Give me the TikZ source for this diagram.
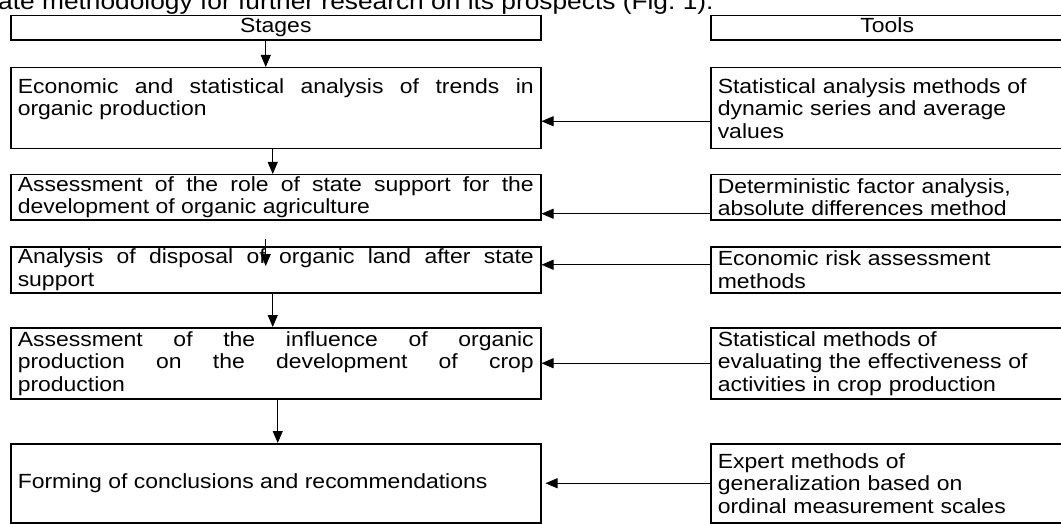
\documentclass[tikz,border=0pt]{standalone}
\usepackage{fontspec}
\setmainfont[FakeStretch=1.12]{Liberation Sans}
\usetikzlibrary{arrows.meta}
\begin{document}
\begin{tikzpicture}[x=1pt,y=-1pt,
 box/.style={draw,line width=1.5pt,anchor=north west,inner xsep=7pt,inner ysep=1pt,font=\fontsize{20.5}{22.5}\selectfont},
 stage/.style={box,text width=516pt,align=justify},
 tool/.style={box,text width=339pt,align=left},
 arr/.style={-{Triangle[length=12pt,width=10pt]},line width=0.8pt}]
 \clip (0,0) rectangle (1061,524);
 \node[anchor=base west,inner sep=0pt,font=\fontsize{23.5}{27}\selectfont] (lead) at (-2,10) {ate methodology for further research on its prospects (Fig.~1).};
 \node[box,minimum width=530pt,minimum height=24pt] (stages) at (10,15) {\strut Stages};
 \node[box,minimum width=353pt,minimum height=24pt] (tools) at (710,15) {\strut Tools};
 \node[stage,minimum height=81pt] (s1) at (10,67) {Economic and statistical analysis of trends in\linebreak organic production\par\mbox{}};
 \node[stage,minimum height=45pt] (s2) at (10,174) {Assessment of the role of state support for the\linebreak development of organic agriculture};
 \node[stage,minimum height=46pt] (s3) at (10,246) {Analysis of disposal of organic land after state\linebreak support};
 \node[stage,minimum height=71pt] (s4) at (10,327) {Assessment of the influence of organic\linebreak production on the development of crop\linebreak production};
 \node[stage,minimum height=79pt] (s5) at (10,443) {Forming of conclusions and recommendations};
 \node[tool,minimum height=81pt] (t1) at (710,67) {Statistical analysis methods of\\dynamic series and average\\values};
 \node[tool,minimum height=45pt] (t2) at (710,174) {Deterministic factor analysis,\\absolute differences method};
 \node[tool,minimum height=46pt] (t3) at (710,246) {Economic risk assessment\\methods};
 \node[tool,minimum height=71pt] (t4) at (710,327) {Statistical methods of\\evaluating the effectiveness of\\activities in crop production};
 \node[tool,minimum height=79pt] (t5) at (710,443) {Expert methods of\\generalization based on\\ordinal measurement scales};
 \draw[arr] ([xshift=-10pt]stages.south) -- ([xshift=-10pt]s1.north);
 \draw[arr] ([xshift=-3pt]s1.south) -- ([xshift=-3pt]s2.north);
 \draw[arr] ([xshift=-10pt,yshift=7pt]s3.north) -- ([xshift=-10pt,yshift=-20pt]s3.north);
 \draw[arr] ([xshift=-3pt]s3.south) -- ([xshift=-3pt]s4.north);
 \draw[arr] ([xshift=2pt]s4.south) -- ([xshift=2pt]s5.north);
 \draw[arr] ([yshift=-13pt]t1.west) -- ([yshift=-13pt]s1.east);
 \draw[arr] ([yshift=-16.5pt]t2.west) -- ([yshift=-16.5pt]s2.east);
 \draw[arr] ([yshift=5pt]t3.west) -- ([yshift=5pt]s3.east);
 \draw[arr] (t4.west) -- (s4.east);
 \draw[arr,shorten >=4pt] (t5.west) -- (s5.east);
\end{tikzpicture}
\end{document}
